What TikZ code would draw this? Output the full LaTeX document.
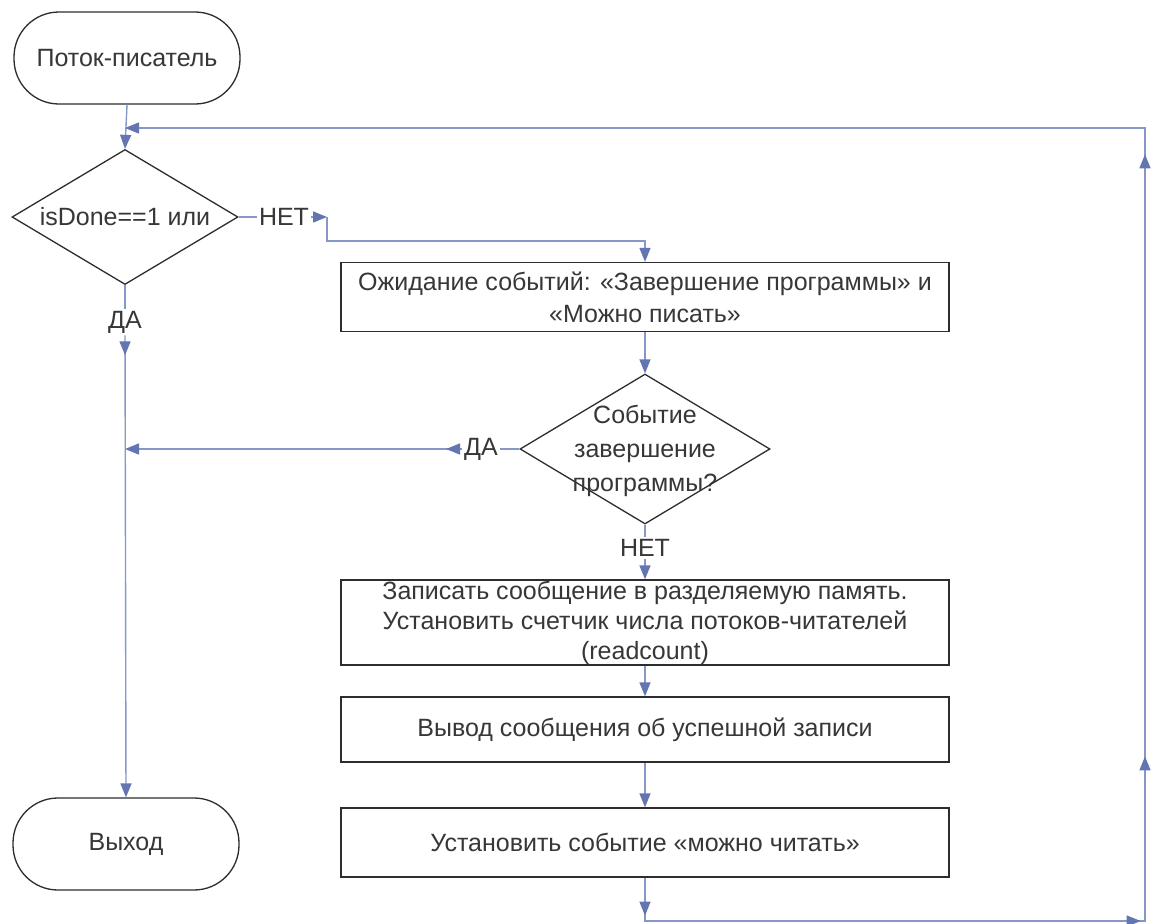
\documentclass[tikz,border=0pt]{standalone}
\usepackage{fontspec}
\setmainfont{Liberation Sans}
\usetikzlibrary{arrows.meta,decorations.markings,shapes.geometric}
\definecolor{lnc}{RGB}{135,152,200}
\definecolor{arc}{RGB}{100,118,178}
\definecolor{txc}{RGB}{55,55,55}
\definecolor{bdc}{RGB}{45,45,45}
\tikzset{
  tri/.tip={Triangle[length=14pt,width=11pt,color=arc]},
  every node/.style={font=\fontsize{25}{31}\selectfont, text=txc},
  term/.style={draw=bdc, line width=1.3pt, rounded corners=45pt, minimum width=226pt, minimum height=92pt, inner sep=0pt},
  dia/.style={draw=bdc, line width=1.3pt, shape=diamond, inner sep=0pt},
  proc/.style={draw=bdc, line width=1.3pt, minimum width=608pt, inner sep=0pt, align=center},
  lbl/.style={inner sep=2pt},
  conn/.style={draw=lnc, line width=1.4pt},
  toarrow/.style={conn, -{tri}},
}
\begin{document}
\begin{tikzpicture}[x=1pt,y=-1pt]
\fill[white] (0,0) rectangle (1152,924);
\useasboundingbox (0,0) rectangle (1152,924);

% nodes
\node[term] (t1) at (127,58) {Поток-писатель};
\node[dia, minimum width=226pt, minimum height=135pt] (d1) at (125,217) {};
\node (d1t) at (d1) {isDone==1 или};
\node[proc, minimum height=69pt, font=\fontsize{25}{32}\selectfont] (b1) at (645,297) {Ожидание событий: «Завершение программы» и\\«Можно писать»};
\node[dia, minimum width=250pt, minimum height=150pt] (d2) at (645,449) {};
\node[align=center, font=\fontsize{25}{34}\selectfont] (d2t) at (645,451) {Событие\\завершение\\программы?};
\node[proc, minimum height=85pt, font=\fontsize{25}{30}\selectfont] (b2) at (645,622.5) {Записать сообщение в разделяемую память.\\Установить счетчик числа потоков-читателей\\(readcount)};
\node[proc, minimum height=65pt] (b3) at (645,729.5) {Вывод сообщения об успешной записи};
\node[proc, minimum height=69pt] (b4) at (645,842.5) {Установить событие «можно читать»};
\node[term] (t2) at (126,844) {Выход};

% labels
\node[lbl] (l1) at (284,217) {НЕТ};
\node[lbl] (l2) at (125,322) {ДА};
\node[lbl] (l3) at (481,449) {ДА};
\node[lbl] (l4) at (645,548) {НЕТ};

% helper coordinates
\coordinate (n0) at (327,217);
\coordinate (n1) at (330,241);
\coordinate (j1) at (d1.south |- d2.west);
\coordinate (c1) at (645,921);
\coordinate (c2) at (1145,921);
\coordinate (c3) at (1145,128);
\coordinate (c4) at (125,128);

% connectors
\draw[toarrow] (t1.south) -- (d1.north);
\draw[conn] (d1.east) -- (l1);
\draw[toarrow] (l1) -- (n0);
\draw[toarrow] (n0) -- (n0 |- n1) -- (n1 -| b1.north) -- (b1.north);
\draw[toarrow] (b1.south) -- (d2.north);
\draw[conn] (d2.west) -- (l3);
\draw[toarrow, postaction={decorate}, decoration={markings, mark=at position 16pt with {\arrow{tri}}}] (l3) -- (j1);
\draw[conn] (d1.south) -- (l2);
\draw[toarrow, postaction={decorate}, decoration={markings, mark=at position 20pt with {\arrow{tri}}}] (l2) -- (t2.north);
\draw[conn] (d2.south) -- (l4);
\draw[toarrow] (l4) -- (b2.north);
\draw[toarrow] (b2.south) -- (b3.north);
\draw[toarrow] (b3.south) -- (b4.north);
\draw[toarrow, postaction={decorate}, decoration={markings,
    mark=at position 38pt with {\arrow{tri}},
    mark=at position 539pt with {\arrow{tri}},
    mark=at position 708pt with {\arrow{tri}},
    mark=at position 1310pt with {\arrow{tri}}}]
  (b4.south) -- (c1) -- (c2) -- (c3) -- (c4);
\end{tikzpicture}
\end{document}
